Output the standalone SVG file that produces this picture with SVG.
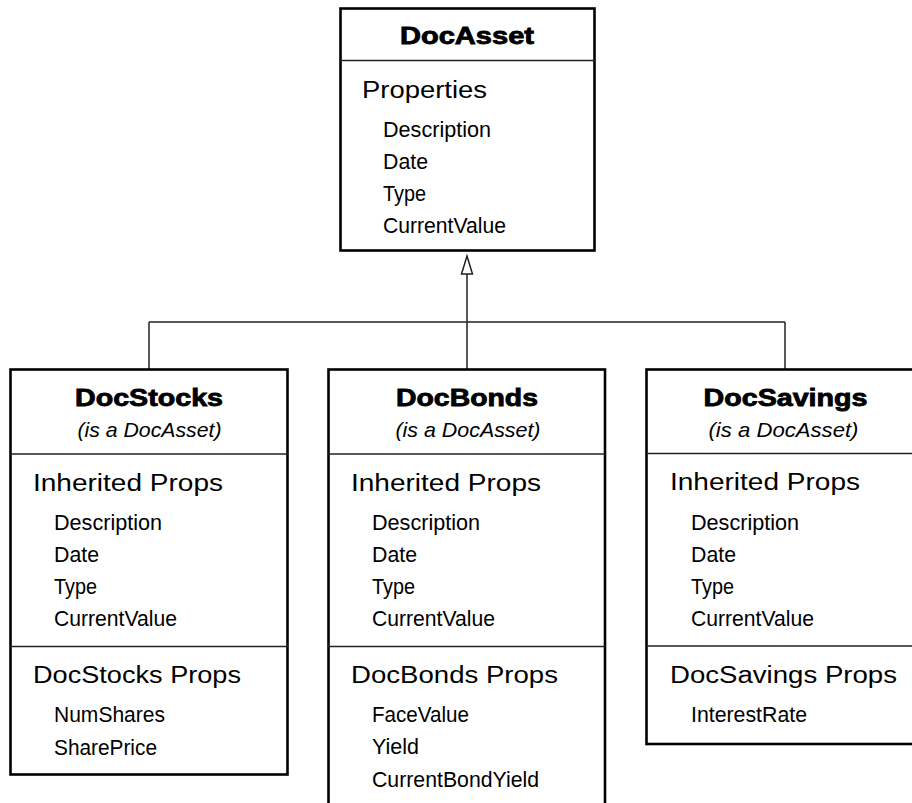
<svg xmlns="http://www.w3.org/2000/svg" width="912" height="803" viewBox="0 0 912 803">
<style>
.box{fill:#fff;stroke:#000;stroke-width:2.6}
.div{stroke:#222;stroke-width:1.5;fill:none}
.con{stroke:#222;stroke-width:1.5;fill:none}
.title{font-family:"Liberation Sans",Arial,sans-serif;font-weight:bold;font-size:23px;fill:#000;stroke:#000;stroke-width:0.8;text-anchor:middle}
.sub{font-family:"Liberation Sans",Arial,sans-serif;font-style:italic;font-size:21px;fill:#000;text-anchor:middle}
.head{font-family:"Liberation Sans",Arial,sans-serif;font-size:23px;fill:#000}
.item{font-family:"Liberation Sans",Arial,sans-serif;font-size:22px;fill:#000}
</style>
<rect width="912" height="803" fill="#fff"/>
<g id="connectors">
<line class="con" x1="149" y1="322" x2="785" y2="322"/>
<line class="con" x1="149" y1="322" x2="149" y2="369"/>
<line class="con" x1="785" y1="322" x2="785" y2="369"/>
<line class="con" x1="467" y1="274" x2="467" y2="369"/>
<polygon points="467,256 461.5,274 472.5,274" fill="#fff" stroke="#222" stroke-width="1.5"/>
</g>
<g id="DocAsset">
<rect class="box" x="340.5" y="8.5" width="254" height="242"/>
<line class="div" x1="340" y1="60.5" x2="595" y2="60.5"/>
<text class="title" x="467" y="44" textLength="134" lengthAdjust="spacingAndGlyphs">DocAsset</text>
<text class="head" x="362" y="98" textLength="125" lengthAdjust="spacingAndGlyphs">Properties</text>
<text class="item" x="383" y="137" textLength="108" lengthAdjust="spacingAndGlyphs">Description</text>
<text class="item" x="383" y="169" textLength="45" lengthAdjust="spacingAndGlyphs">Date</text>
<text class="item" x="383" y="201" textLength="43" lengthAdjust="spacingAndGlyphs">Type</text>
<text class="item" x="383" y="233" textLength="123" lengthAdjust="spacingAndGlyphs">CurrentValue</text>
</g>
<g id="DocStocks">
<rect class="box" x="10.5" y="369.5" width="277" height="405"/>
<line class="div" x1="10" y1="454" x2="288" y2="454"/>
<line class="div" x1="10" y1="646.5" x2="288" y2="646.5"/>
<text class="title" x="149" y="406" textLength="148" lengthAdjust="spacingAndGlyphs">DocStocks</text>
<text class="sub" x="149.5" y="437" textLength="144" lengthAdjust="spacingAndGlyphs">(is a DocAsset)</text>
<text class="head" x="33" y="491" textLength="190" lengthAdjust="spacingAndGlyphs">Inherited Props</text>
<text class="item" x="54" y="530" textLength="108" lengthAdjust="spacingAndGlyphs">Description</text>
<text class="item" x="54" y="562" textLength="45" lengthAdjust="spacingAndGlyphs">Date</text>
<text class="item" x="54" y="594" textLength="43" lengthAdjust="spacingAndGlyphs">Type</text>
<text class="item" x="54" y="626" textLength="123" lengthAdjust="spacingAndGlyphs">CurrentValue</text>
<text class="head" x="33" y="683" textLength="208" lengthAdjust="spacingAndGlyphs">DocStocks Props</text>
<text class="item" x="54" y="722" textLength="111" lengthAdjust="spacingAndGlyphs">NumShares</text>
<text class="item" x="54" y="755" textLength="103" lengthAdjust="spacingAndGlyphs">SharePrice</text>
</g>
<g id="DocBonds">
<rect class="box" x="328.5" y="369.5" width="276.5" height="450"/>
<line class="div" x1="328" y1="454" x2="605" y2="454"/>
<line class="div" x1="328" y1="646.5" x2="605" y2="646.5"/>
<text class="title" x="467" y="406" textLength="142" lengthAdjust="spacingAndGlyphs">DocBonds</text>
<text class="sub" x="468" y="437" textLength="145" lengthAdjust="spacingAndGlyphs">(is a DocAsset)</text>
<text class="head" x="351" y="491" textLength="190" lengthAdjust="spacingAndGlyphs">Inherited Props</text>
<text class="item" x="372" y="530" textLength="108" lengthAdjust="spacingAndGlyphs">Description</text>
<text class="item" x="372" y="562" textLength="45" lengthAdjust="spacingAndGlyphs">Date</text>
<text class="item" x="372" y="594" textLength="43" lengthAdjust="spacingAndGlyphs">Type</text>
<text class="item" x="372" y="626" textLength="123" lengthAdjust="spacingAndGlyphs">CurrentValue</text>
<text class="head" x="351" y="683" textLength="207" lengthAdjust="spacingAndGlyphs">DocBonds Props</text>
<text class="item" x="372" y="722" textLength="97" lengthAdjust="spacingAndGlyphs">FaceValue</text>
<text class="item" x="372" y="754" textLength="47" lengthAdjust="spacingAndGlyphs">Yield</text>
<text class="item" x="372" y="787" textLength="167" lengthAdjust="spacingAndGlyphs">CurrentBondYield</text>
</g>
<g id="DocSavings">
<rect class="box" x="646.5" y="369.5" width="270" height="374.5"/>
<line class="div" x1="646" y1="453.5" x2="914" y2="453.5"/>
<line class="div" x1="646" y1="646" x2="914" y2="646"/>
<text class="title" x="785.5" y="406" textLength="164" lengthAdjust="spacingAndGlyphs">DocSavings</text>
<text class="sub" x="783.5" y="437" textLength="150" lengthAdjust="spacingAndGlyphs">(is a DocAsset)</text>
<text class="head" x="670" y="490" textLength="190" lengthAdjust="spacingAndGlyphs">Inherited Props</text>
<text class="item" x="691" y="530" textLength="108" lengthAdjust="spacingAndGlyphs">Description</text>
<text class="item" x="691" y="562" textLength="45" lengthAdjust="spacingAndGlyphs">Date</text>
<text class="item" x="691" y="594" textLength="43" lengthAdjust="spacingAndGlyphs">Type</text>
<text class="item" x="691" y="626" textLength="123" lengthAdjust="spacingAndGlyphs">CurrentValue</text>
<text class="head" x="670" y="683" textLength="227" lengthAdjust="spacingAndGlyphs">DocSavings Props</text>
<text class="item" x="691" y="722" textLength="116" lengthAdjust="spacingAndGlyphs">InterestRate</text>
</g>
</svg>
